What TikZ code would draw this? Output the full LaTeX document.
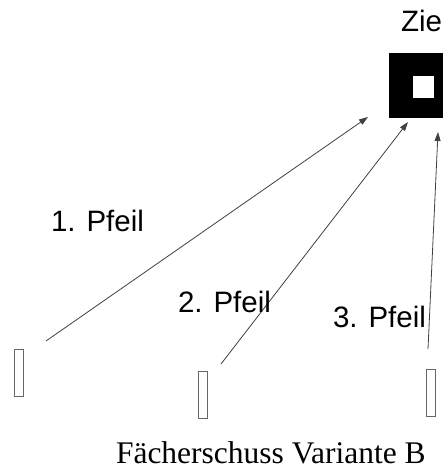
\documentclass[tikz,border=0pt]{standalone}
\usepackage{fontspec}
\setmainfont{Liberation Serif}
\newfontfamily\arialfont{Liberation Sans}
\usetikzlibrary{arrows.meta}
\begin{document}
\begin{tikzpicture}[
    x=1pt, y=-1pt,
    every node/.style={inner sep=0pt, outer sep=0pt},
    label text/.style={anchor=base west, font=\arialfont\fontsize{29.5}{35}\selectfont},
    archer/.style={draw=black!60, line width=0.9pt, minimum width=9pt, minimum height=47pt},
    shot arrow/.style={draw=black!75, line width=0.8pt, -{Triangle[length=9pt, width=6pt]}},
    ]
\useasboundingbox (0,0) rectangle (443,468);
% target
\node[fill=black, minimum width=67pt, minimum height=65pt] (target) at (422.5,85.5) {};
\node[fill=white, minimum width=21pt, minimum height=22pt] (bull) at (423.5,87) {};
\node[label text] (ziel) at (401,32) {Ziel};
% archers
\node[archer] (A) at (18.5,372.5) {};
\node[archer] (B) at (202.5,395) {};
\node[archer] (C) at (431,393) {};
% arrow ends
\coordinate (startA) at (46,341);
\coordinate (startB) at (221,364);
\coordinate (startC) at (428,349);
\coordinate (tipA) at (368,117);
\coordinate (tipB) at (408,122);
\coordinate (tipC) at (438,132);
\draw[shot arrow] (startA) -- (tipA);
\draw[shot arrow] (startB) -- (tipB);
\draw[shot arrow] (startC) -- (tipC);
% labels
\node[label text] (pfeilA) at (51,231) {1. Pfeil};
\node[label text] (pfeilB) at (178,312) {2. Pfeil};
\node[label text] (pfeilC) at (333,327) {3. Pfeil};
\node[anchor=base west, font=\fontsize{31.5}{37}\selectfont] (caption) at (116,463) {Fächerschuss Variante B};
\end{tikzpicture}
\end{document}
